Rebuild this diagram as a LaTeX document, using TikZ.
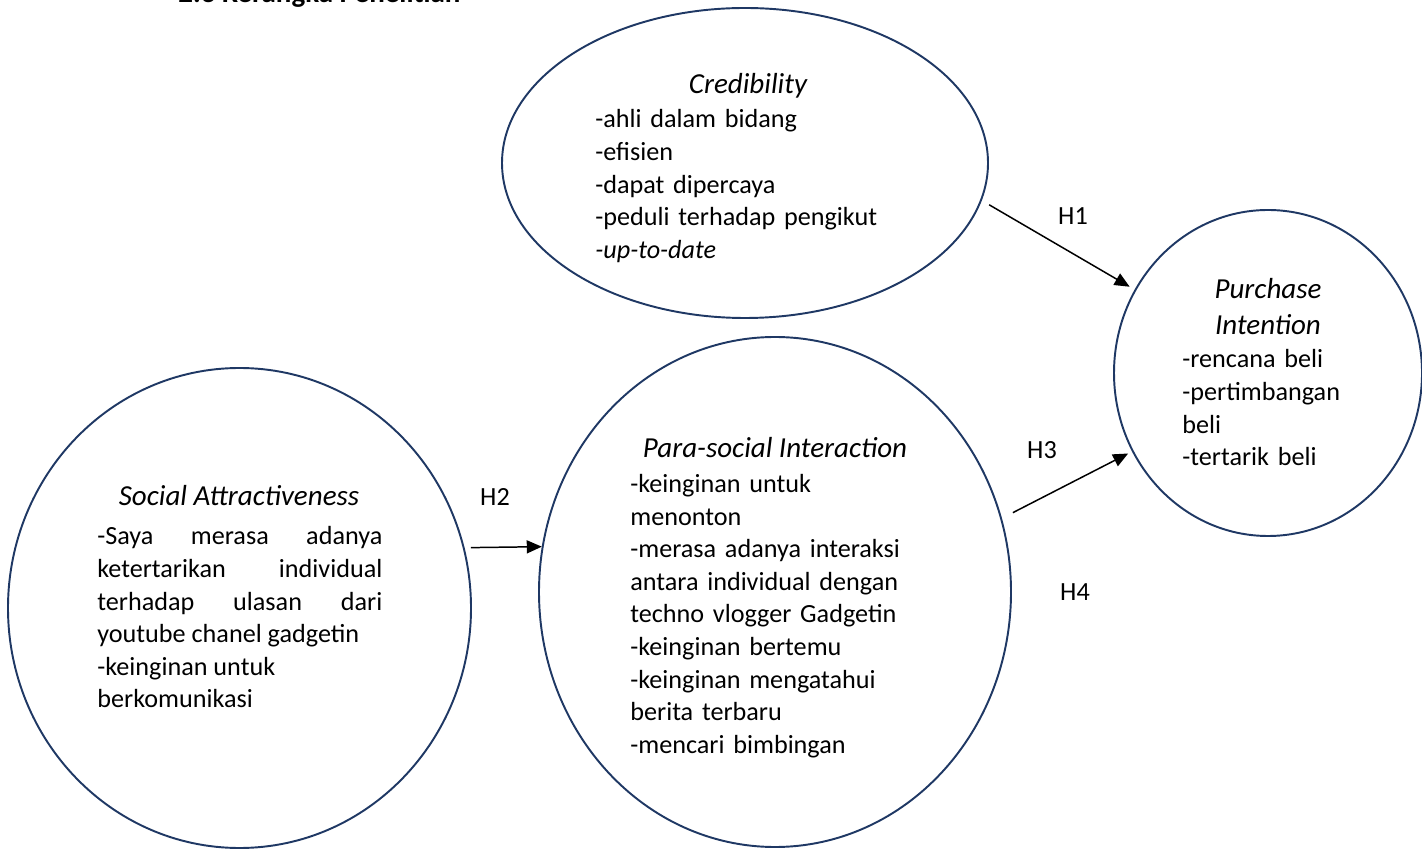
\documentclass[tikz,border=0pt]{standalone}
\usepackage{fontspec}
\setmainfont{Carlito}
\usetikzlibrary{arrows.meta,shapes.geometric}
\definecolor{KpNavy}{RGB}{31,56,100}
\newcommand{\kpfont}{\fontsize{14.9pt}{18.55pt}\selectfont}
\newcommand{\kptitlefont}{\fontsize{16.5pt}{20.2pt}\selectfont}
\tikzset{
  kp/var/.style={
    ellipse,
    draw=KpNavy,
    line width=1.1pt,
    inner sep=0pt
  },
  kp/title/.style={font=\kptitlefont\itshape, anchor=base, inner sep=0pt},
  kp/items/.style={font=\kpfont, anchor=base west, align=left, inner sep=0pt},
  kp/hyp/.style={font=\kpfont, anchor=base, inner sep=0pt},
  kp/arrow/.style={-{Triangle[length=0.3cm,width=0.26cm]}, line width=0.85pt, draw=black}
}

\begin{document}
\begin{tikzpicture}[x=1cm,y=1cm]
  \useasboundingbox (0,0) rectangle (28.44,17);
  \node[font=\kptitlefont\bfseries,anchor=base west,inner sep=0pt] (heading) at (3.56,16.95) {2.3 Kerangka Penelitian};
  % variabel
  \node[kp/var,minimum width=9.72cm,minimum height=6.2cm] (cred) at (14.9,13.74) {};
  \node[kp/var,minimum width=6.16cm,minimum height=6.52cm] (pi) at (25.36,9.54) {};
  \node[kp/var,minimum width=9.26cm,minimum height=9.6cm] (sa) at (4.79,4.84) {};
  \node[kp/var,minimum width=9.44cm,minimum height=10.2cm] (psi) at (15.5,5.16) {};
  % isi
  \node[kp/title] (cred-title) at (14.96,15.12) {Credibility};
  \node[kp/items,text width=6.5cm] (cred-items) at (11.9,14.44) {-ahli dalam bidang\\-efisien\\-dapat dipercaya\\-peduli terhadap pengikut\\\textit{-up-to-date}};
  \node[kp/title,text width=3cm,align=center] (pi-title) at (25.36,11.02) {Purchase\\Intention};
  \node[kp/items,text width=4cm] (pi-items) at (23.64,9.64) {-rencana beli\\-pertimbangan\\beli\\-tertarik beli};
  \node[kp/title] (sa-title) at (4.78,6.88) {Social Attractiveness};
  \node[kp/items,text width=5.7cm,align=justify] (sa-items) at (1.94,6.1) {-Saya merasa adanya\linebreak ketertarikan individual\linebreak terhadap ulasan dari\linebreak youtube chanel gadgetin\\-keinginan untuk\\berkomunikasi};
  \node[kp/title] (psi-title) at (15.5,7.84) {Para-social Interaction};
  \node[kp/items,text width=6.5cm] (psi-items) at (12.6,7.15) {-keinginan untuk\\menonton\\-merasa adanya interaksi\\antara individual dengan\\techno vlogger Gadgetin\\-keinginan bertemu\\-keinginan mengatahui\\berita terbaru\\-mencari bimbingan};
  % hipotesis
  \draw[kp/arrow,shorten <=0.17cm,shorten >=0.114cm] (cred.-9.87) -- (pi.148.3);
  \draw[kp/arrow,shorten <=0.128cm] (sa.15) -- (psi.169.3);
  \draw[kp/arrow,shorten <=0.246cm,shorten >=0.086cm] (psi.18) -- (pi.210.9);
  \node[kp/hyp] (h1) at (21.46,12.5) {H1};
  \node[kp/hyp] (h2) at (9.9,6.88) {H2};
  \node[kp/hyp] (h3) at (20.84,7.82) {H3};
  \node[kp/hyp] (h4) at (21.5,4.98) {H4};
\end{tikzpicture}
\end{document}
